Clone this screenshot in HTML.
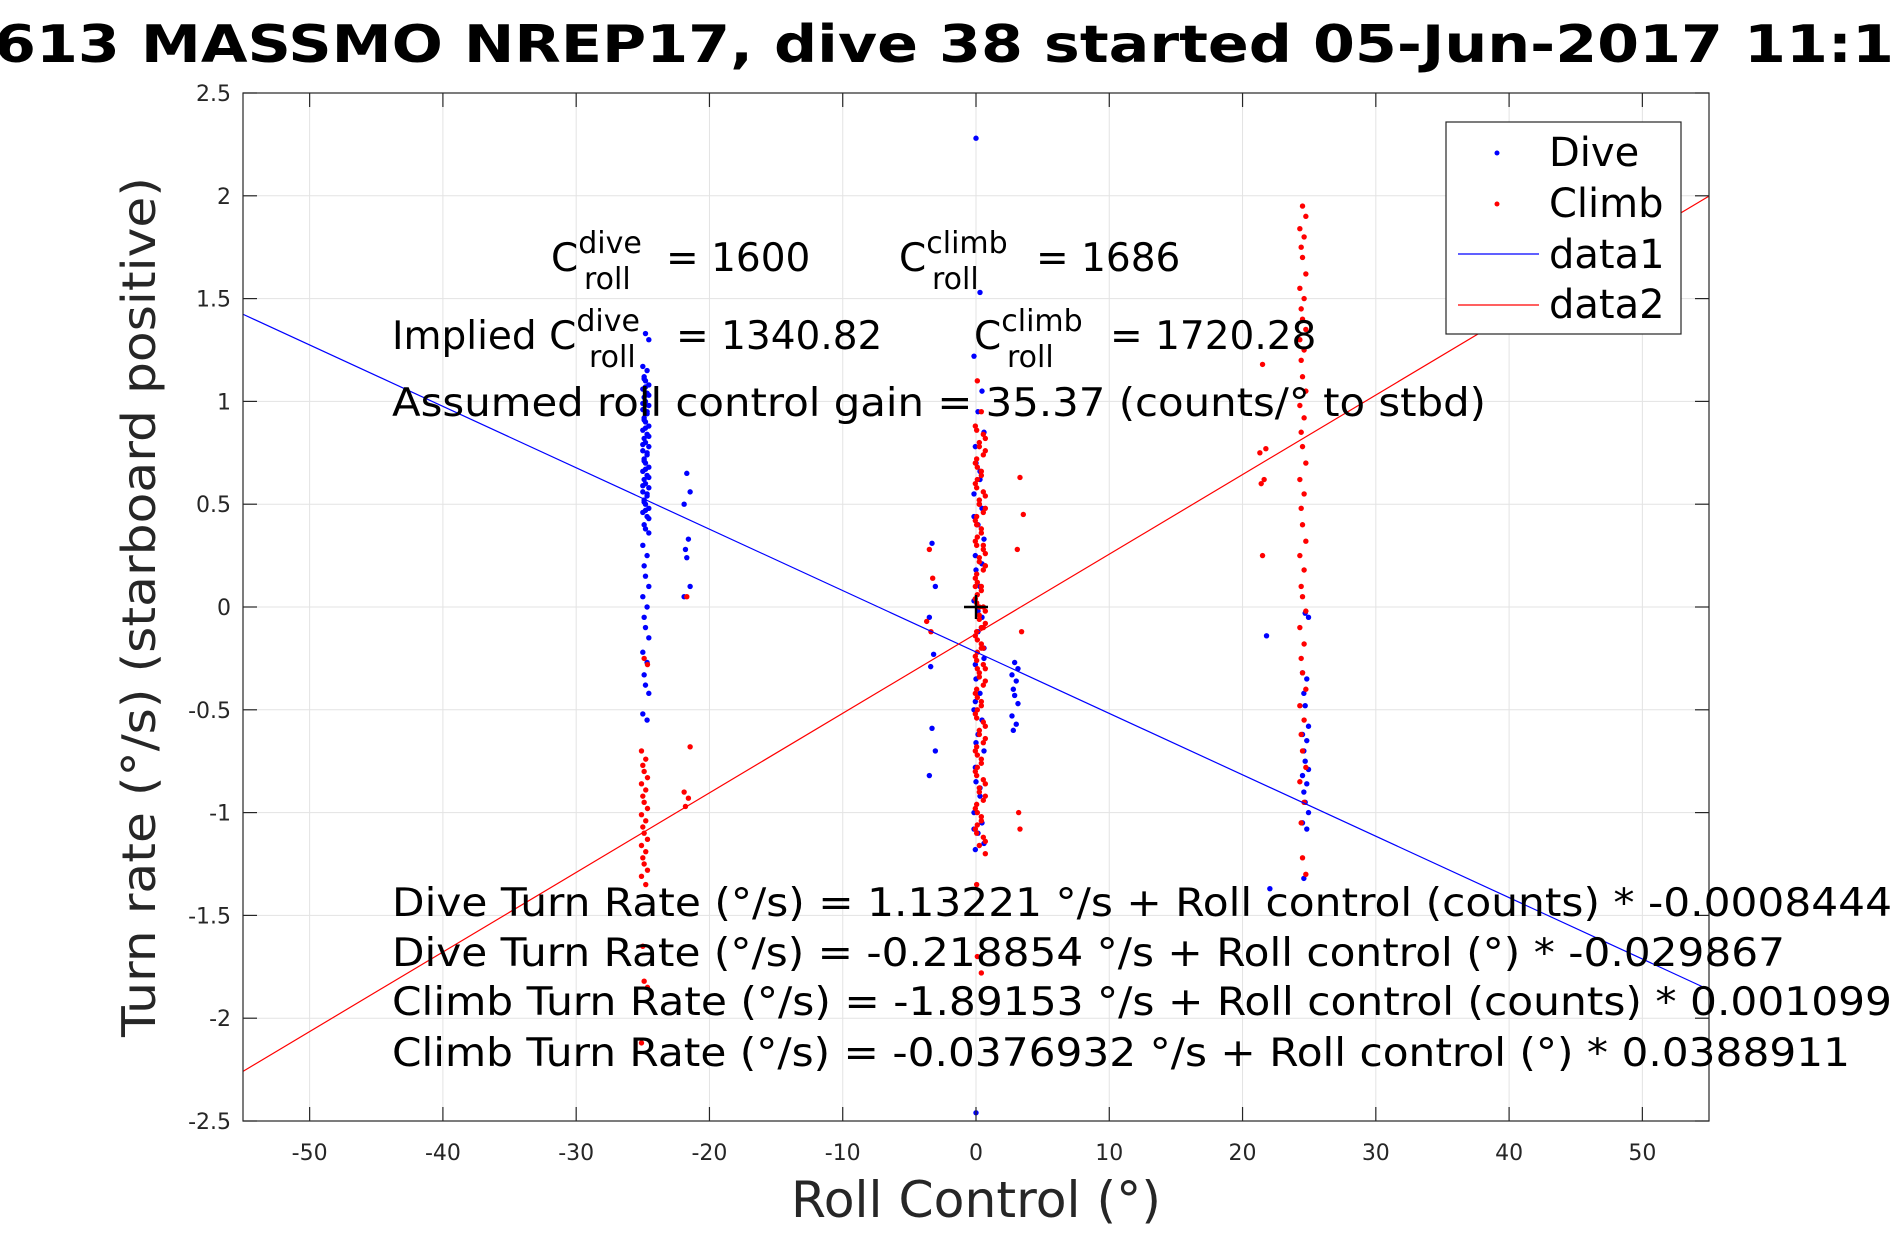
<!DOCTYPE html>
<html><head><meta charset="utf-8"><style>
html,body{margin:0;padding:0;background:#fff;}
svg{display:block;font-family:"DejaVu Sans","Liberation Sans",sans-serif;}
</style></head><body>
<svg id="chart" width="1890" height="1260" viewBox="0 0 1890 1260" xmlns="http://www.w3.org/2000/svg">
<rect x="0" y="0" width="1890" height="1260" fill="#fff"/>
<text x="-6" y="62" font-size="52" font-weight="bold" fill="#000" textLength="1900" lengthAdjust="spacingAndGlyphs">613 MASSMO NREP17, dive 38 started 05-Jun-2017 11:1</text>
<rect x="243" y="93" width="1466" height="1028" fill="#fff"/>
<g id="grid"></g>
<g id="marks"></g>
<g id="axes"></g>
<g font-size="39" fill="#000">
 <text x="551" y="271">C<tspan font-size="30" dy="-18">dive</tspan><tspan x="584" dy="36" font-size="30">roll</tspan><tspan x="666" dy="-18">= 1600</tspan></text>
 <text x="899" y="271">C<tspan font-size="30" dy="-18">climb</tspan><tspan x="932" dy="36" font-size="30">roll</tspan><tspan x="1036" dy="-18">= 1686</tspan></text>
 <text x="392" y="349">Implied C<tspan font-size="30" dy="-18">dive</tspan><tspan x="589" dy="36" font-size="30">roll</tspan><tspan x="676" dy="-18">= 1340.82</tspan></text>
 <text x="974" y="349">C<tspan font-size="30" dy="-18">climb</tspan><tspan x="1007" dy="36" font-size="30">roll</tspan><tspan x="1110" dy="-18">= 1720.28</tspan></text>
 <text x="392" y="416" textLength="1094" lengthAdjust="spacingAndGlyphs">Assumed roll control gain = 35.37 (counts/° to stbd)</text>
 <text x="392" y="916" textLength="1500" lengthAdjust="spacingAndGlyphs">Dive Turn Rate (°/s) = 1.13221 °/s + Roll control (counts) * -0.0008444</text>
 <text x="392" y="966" textLength="1393" lengthAdjust="spacingAndGlyphs">Dive Turn Rate (°/s) = -0.218854 °/s + Roll control (°) * -0.029867</text>
 <text x="392" y="1015" textLength="1500" lengthAdjust="spacingAndGlyphs">Climb Turn Rate (°/s) = -1.89153 °/s + Roll control (counts) * 0.001099</text>
 <text x="392" y="1066" textLength="1458" lengthAdjust="spacingAndGlyphs">Climb Turn Rate (°/s) = -0.0376932 °/s + Roll control (°) * 0.0388911</text>
</g>
<g>
 <rect x="1446" y="122" width="235" height="212" fill="#fff" stroke="#262626" stroke-width="1.2"/>
 <circle cx="1497" cy="153" r="2.5" fill="#00f"/>
 <text x="1549" y="166" font-size="40">Dive</text>
 <circle cx="1497" cy="204" r="2.5" fill="#f00"/>
 <text x="1549" y="217" font-size="40">Climb</text>
 <line x1="1458" y1="254" x2="1539" y2="254" stroke="#00f" stroke-width="1.2"/>
 <text x="1549" y="268" font-size="40">data1</text>
 <line x1="1458" y1="305" x2="1539" y2="305" stroke="#f00" stroke-width="1.2"/>
 <text x="1549" y="318" font-size="40">data2</text>
</g>
<text x="976" y="1217" font-size="50" text-anchor="middle" fill="#262626" textLength="370" lengthAdjust="spacingAndGlyphs">Roll Control (°)</text>
<text transform="translate(155,607) rotate(-90)" font-size="46" text-anchor="middle" fill="#262626" textLength="860" lengthAdjust="spacingAndGlyphs">Turn rate (°/s) (starboard positive)</text>
</svg>
<script>
const xTicks = [-50,-40,-30,-20,-10,0,10,20,30,40,50];
const yTicks = [-2.5,-2,-1.5,-1,-0.5,0,0.5,1,1.5,2,2.5];
const yTickLabels = ["-2.5","-2","-1.5","-1","-0.5","0","0.5","1","1.5","2","2.5"];
const diveFit = [-0.218854, -0.029867];
const climbFit = [-0.13, 0.0387];
const jitter = [0, 0.25, -0.2, 0.12, -0.1];
const centerJitter = [0, 0.3, -0.15, 0.45, 0.15, 0.6, -0.05];
const diveAX = -24.8;
const diveAY = [1.33,1.30,1.17,1.15,1.12,1.10,1.08,1.06,1.04,1.02,1.00,0.98,0.96,0.94,0.92,0.90,0.88,0.86,0.84,0.82,0.80,0.78,0.76,0.74,0.72,0.70,0.68,0.66,0.64,0.62,0.60,0.58,0.56,0.54,0.52,0.50,0.48,0.46,0.44,0.40,0.38,0.36,0.30,0.25,0.20,0.15,0.10,0.05,0.0,-0.05,-0.10,-0.15,-0.22,-0.27,-0.33,-0.38,-0.42,-0.52,-0.55,1.11,1.07,1.03,0.99,0.95,0.91,0.87,0.83,0.79,0.75,0.71,0.67,0.63,0.59,0.55,0.51,0.47,0.43];
const diveBX = -21.7;
const diveBY = [0.65,0.56,0.50,0.33,0.28,0.24,0.10,0.05];
const diveCX = 0;
const diveCY = [2.28,1.53,1.22,1.05,0.95,0.85,0.78,0.7,0.62,0.55,0.48,0.4,0.33,0.25,0.18,0.1,0.03,-0.05,-0.12,-0.2,-0.28,-0.35,-0.42,-0.5,-0.55,-0.62,-0.7,-0.78,-0.85,-0.92,-1.0,-1.05,-1.1,-1.15,-1.18,-2.46,0.66,0.44,0.21,-0.02,-0.25,-0.46,-0.66,-0.88,-1.08];
const diveDX = -3.3;
const diveDY = [0.31,0.10,-0.05,-0.23,-0.29,-0.59,-0.70,-0.82];
const diveEX = 2.9;
const diveEY = [-0.27,-0.30,-0.33,-0.36,-0.40,-0.43,-0.47,-0.53,-0.57,-0.60];
const diveFX = 21.8;
const diveFY = [-0.14,-1.37];
const diveGX = 24.7;
const diveGY = [-0.03,-0.05,-0.32,-0.35,-0.42,-0.48,-0.58,-0.62,-0.65,-0.70,-0.75,-0.79,-0.82,-0.86,-0.90,-0.95,-1.00,-1.05,-1.08,-1.32];
const climbAX = -24.9;
const climbAY = [-0.25,-0.28,-0.70,-0.74,-0.77,-0.80,-0.83,-0.86,-0.89,-0.92,-0.95,-0.98,-1.01,-1.04,-1.07,-1.10,-1.13,-1.16,-1.19,-1.22,-1.25,-1.28,-1.31,-1.35,-1.65,-1.82,-1.85,-2.12];
const climbBX = -21.7;
const climbBY = [0.05,-0.68,-0.90,-0.93,-0.97];
const climbCX = 0.1;
const climbCY = [1.1,0.95,0.88,0.84,0.80,0.76,0.72,0.68,0.64,0.60,0.56,0.52,0.48,0.44,0.40,0.36,0.32,0.28,0.24,0.20,0.16,0.12,0.08,0.04,0.0,-0.04,-0.08,-0.12,-0.16,-0.20,-0.24,-0.28,-0.32,-0.36,-0.40,-0.44,-0.48,-0.52,-0.56,-0.60,-0.64,-0.68,-0.72,-0.76,-0.80,-0.84,-0.88,-0.92,-0.96,-1.0,-1.04,-1.08,-1.12,-1.16,-1.2,-1.35,-1.7,-1.78];
const climbC2Y = [0.86,0.82,0.78,0.74,0.70,0.66,0.62,0.58,0.54,0.50,0.46,0.42,0.38,0.34,0.30,0.26,0.22,0.18,0.14,0.10,0.06,0.02,-0.02,-0.06,-0.10,-0.14,-0.18,-0.22,-0.26,-0.30,-0.34,-0.38,-0.42,-0.46,-0.50,-0.54,-0.58,-0.62,-0.66,-0.70,-0.74,-0.78,-0.82,-0.86,-0.90,-0.94,-0.98,-1.02,-1.06,-1.10,-1.14,0.5,0.3,0.1,-0.1,-0.3,0.4,0.2,0.0,-0.2];
const climbDX = -3.5;
const climbDY = [0.28,0.14,-0.07,-0.12];
const climbEX = 3.3;
const climbEY = [0.63,0.45,0.28,-0.12,-1.0,-1.08];
const climbFX = 21.5;
const climbFY = [1.18,0.77,0.75,0.62,0.60,0.25];
const climbGX = 24.5;
const climbGY = [1.95,1.90,1.84,1.80,1.75,1.70,1.62,1.55,1.50,1.45,1.40,1.35,1.30,1.25,1.20,1.12,1.05,0.98,0.92,0.85,0.78,0.70,0.62,0.55,0.48,0.40,0.32,0.25,0.18,0.10,0.05,-0.02,-0.10,-0.18,-0.25,-0.32,-0.40,-0.48,-0.55,-0.62,-0.70,-0.78,-0.85,-0.95,-1.05,-1.22,-1.30];

const NS = "http://www.w3.org/2000/svg";
const L = 243, R = 1709, T = 93, B = 1121;
const xMin = -55, xMax = 55, yMin = -2.5, yMax = 2.5;
function xs(v){ return L + (v - xMin) / (xMax - xMin) * (R - L); }
function ys(v){ return B - (v - yMin) / (yMax - yMin) * (B - T); }
function mk(tag, attrs, parent){
  const e = document.createElementNS(NS, tag);
  for (const k in attrs) e.setAttribute(k, attrs[k]);
  parent.appendChild(e);
  return e;
}
const grid = document.getElementById('grid');
const axes = document.getElementById('axes');
const marks = document.getElementById('marks');
xTicks.forEach(t => {
  const g = mk('line', {x1: xs(t), x2: xs(t), y1: T, y2: B, stroke: '#e3e3e3', 'stroke-width': 1}, grid);
  
  
  const a = mk('line', {x1: xs(t), x2: xs(t), y1: B, y2: B - 14, stroke: '#262626', 'stroke-width': 1.2}, axes);
  
  
  const b = mk('line', {x1: xs(t), x2: xs(t), y1: T, y2: T + 14, stroke: '#262626', 'stroke-width': 1.2}, axes);
  
  
  const lb = mk('text', {x: xs(t), y: 1160, 'font-size': 22, 'text-anchor': 'middle', fill: '#262626'}, axes);
  lb.textContent = String(t);
  
  
});
yTicks.forEach((t, i) => {
  const g = mk('line', {x1: L, x2: R, y1: ys(t), y2: ys(t), stroke: '#e3e3e3', 'stroke-width': 1}, grid);
  
  
  const a = mk('line', {x1: L, x2: L + 14, y1: ys(t), y2: ys(t), stroke: '#262626', 'stroke-width': 1.2}, axes);
  
  
  const b = mk('line', {x1: R, x2: R - 14, y1: ys(t), y2: ys(t), stroke: '#262626', 'stroke-width': 1.2}, axes);
  
  
  const lb = mk('text', {x: 231, y: ys(t) + 8, 'font-size': 22, 'text-anchor': 'end', fill: '#262626'}, axes);
  lb.textContent = yTickLabels[i];
  
  
});
const frame = mk('rect', {x: L, y: T, width: R - L, height: B - T, fill: 'none', stroke: '#262626', 'stroke-width': 1.2}, axes);



function strip(cx, ysArr, color, name, jit){
  ysArr.forEach((v, i) => {
    const c = mk('circle', {cx: xs(cx + jit[i % jit.length]), cy: ys(v), r: 2.7, fill: color}, marks);
    
    
  });
}
strip(diveAX, diveAY, '#00f', 'dive-point', jitter);
strip(diveBX, diveBY, '#00f', 'dive-point', jitter);
strip(diveCX, diveCY, '#00f', 'dive-point', centerJitter);
strip(diveDX, diveDY, '#00f', 'dive-point', jitter);
strip(diveEX, diveEY, '#00f', 'dive-point', jitter);
strip(diveFX, diveFY, '#00f', 'dive-point', jitter);
strip(diveGX, diveGY, '#00f', 'dive-point', jitter);
strip(climbAX, climbAY, '#f00', 'climb-point', jitter);
strip(climbBX, climbBY, '#f00', 'climb-point', jitter);
strip(climbCX, climbCY, '#f00', 'climb-point', centerJitter);
strip(climbCX, climbC2Y, '#f00', 'climb-point', centerJitter.slice().reverse());
strip(climbDX, climbDY, '#f00', 'climb-point', jitter);
strip(climbEX, climbEY, '#f00', 'climb-point', jitter);
strip(climbFX, climbFY, '#f00', 'climb-point', jitter);
strip(climbGX, climbGY, '#f00', 'climb-point', jitter);

function fitLine(fit, color, name){
  let x1 = xMin, x2 = xMax;
  let y1 = fit[0] + fit[1] * x1, y2 = fit[0] + fit[1] * x2;
  if (y2 > yMax) { x2 = (yMax - fit[0]) / fit[1]; y2 = yMax; }
  const l = mk('line', {x1: xs(x1), y1: ys(y1), x2: xs(x2), y2: ys(y2), stroke: color, 'stroke-width': 1.2}, marks);
  
  
}
fitLine(diveFit, '#00f', 'data1-fit-line');
fitLine(climbFit, '#f00', 'data2-fit-line');
const p1 = mk('line', {x1: xs(0) - 12, x2: xs(0) + 12, y1: ys(0), y2: ys(0), stroke: '#000', 'stroke-width': 2.4}, marks);


const p2 = mk('line', {x1: xs(0), x2: xs(0), y1: ys(0) - 12, y2: ys(0) + 12, stroke: '#000', 'stroke-width': 2.4}, marks);


</script>
</body></html>
